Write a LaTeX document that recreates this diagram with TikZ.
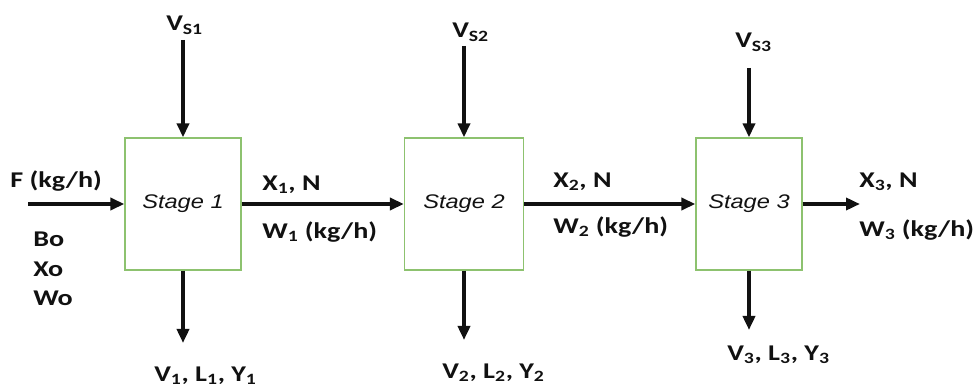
\documentclass[tikz,border=0pt]{standalone}
\usepackage{fontspec}
\setmainfont[FakeStretch=1.25]{Carlito}
\newfontfamily\stagefont[FakeStretch=1.2]{Liberation Sans}
\usetikzlibrary{arrows.meta, positioning}
\definecolor{StageGreen}{HTML}{8DC26F}
\definecolor{InkBlack}{HTML}{111111}

\begin{document}
\begin{tikzpicture}[x=0.025cm, y=-0.025cm, >={Triangle[length=0.35cm, width=0.3cm]},
    stagebox/.style={draw=StageGreen, line width=0.9pt, minimum height=3.3cm, font=\stagefont\itshape\fontsize{14}{16}\selectfont, text=InkBlack},
    lbl/.style={font=\bfseries\fontsize{16}{19}\selectfont, inner sep=0pt, anchor=base west, text=InkBlack},
    flow/.style={->, line width=2.6pt, InkBlack}]
      \useasboundingbox (0,0) rectangle (974,387);

      % stages
      \node[stagebox, minimum width=2.9cm] (s1) at (183,204) {Stage 1};
      \node[stagebox, minimum width=2.975cm] (s2) at (464,204) {Stage 2};
      \node[stagebox, minimum width=2.65cm] (s3) at (749,204) {Stage 3};

      % free ends of the streams
      \coordinate (feed) at (28,204);
      \coordinate (prod) at (860,204);
      \coordinate (vin1) at (183,40);
      \coordinate (vin2) at (464,46);
      \coordinate (vin3) at (749,68);
      \coordinate (vout1) at (183,343);
      \coordinate (vout2) at (464,340);
      \coordinate (vout3) at (749,330);

      % labels
      \node[lbl] (flab) at (10,187) {F (kg/h)};
      \node[lbl] (b0) at (33,246) {Bo};
      \node[lbl] (x0) at (33,276) {Xo};
      \node[lbl] (w0) at (33,305) {Wo};
      \node[lbl] (vs1) at (166,31) {V\textsubscript{S1}};
      \node[lbl] (vs2) at (452,38) {V\textsubscript{S2}};
      \node[lbl] (vs3) at (735,48) {V\textsubscript{S3}};
      \node[lbl] (x1) at (262,190) {X\textsubscript{1}, N};
      \node[lbl] (w1) at (262,238) {W\textsubscript{1} (kg/h)};
      \node[lbl] (x2) at (553,187) {X\textsubscript{2}, N};
      \node[lbl] (w2) at (553,233) {W\textsubscript{2} (kg/h)};
      \node[lbl] (x3) at (859,187) {X\textsubscript{3}, N};
      \node[lbl] (w3) at (859,236) {W\textsubscript{3} (kg/h)};
      \node[lbl] (v1) at (154,381) {V\textsubscript{1}, L\textsubscript{1}, Y\textsubscript{1}};
      \node[lbl] (v2) at (442,378) {V\textsubscript{2}, L\textsubscript{2}, Y\textsubscript{2}};
      \node[lbl] (v3) at (727,360) {V\textsubscript{3}, L\textsubscript{3}, Y\textsubscript{3}};

      \draw[flow] (feed) -- (s1);
      \draw[flow] (s1) -- (s2);
      \draw[flow] (s2) -- (s3);
      \draw[flow] (s3) -- (prod);
      \draw[flow] (vin1) -- (s1);
      \draw[flow] (vin2) -- (s2);
      \draw[flow] (vin3) -- (s3);
      \draw[flow] (s1) -- (vout1);
      \draw[flow] (s2) -- (vout2);
      \draw[flow] (s3) -- (vout3);
    \end{tikzpicture}
\end{document}
